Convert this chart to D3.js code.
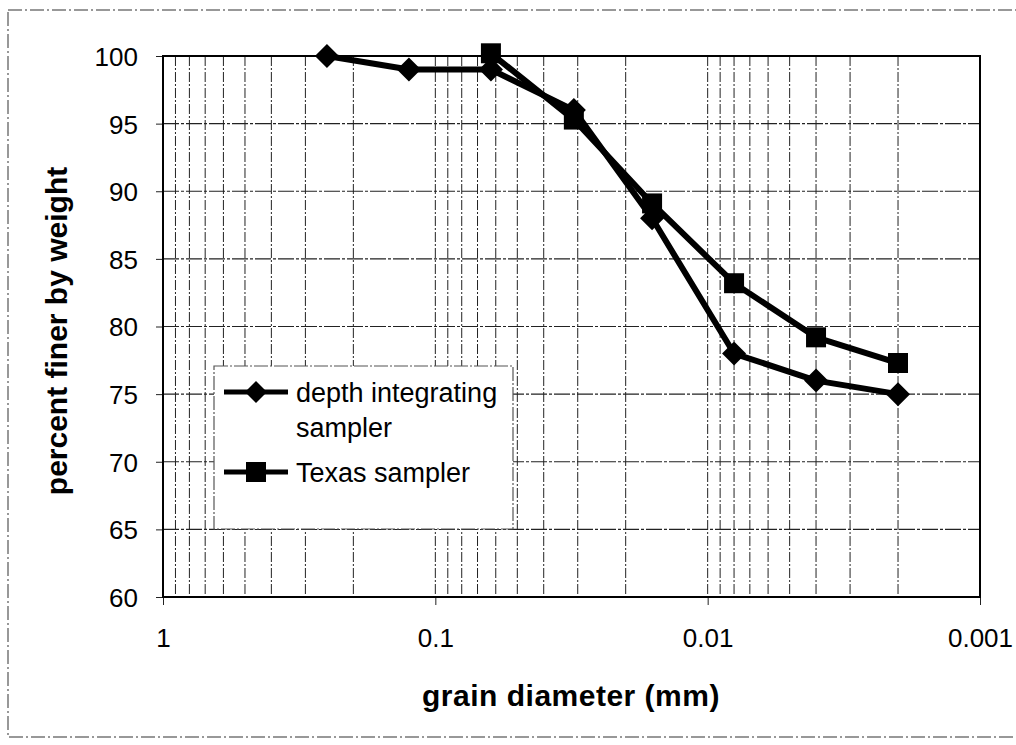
<!DOCTYPE html>
<html>
<head>
<meta charset="utf-8">
<script src="https://cdn.jsdelivr.net/npm/d3@7"></script>
<style>
  body { margin: 0; background: #fff; }
  svg { font-family: "Liberation Sans", Arial, sans-serif; }
</style>
</head>
<body>
<svg id="chart"></svg>
<script>
// grain sizes (mm) and percent finer
const depthDiameters = [0.25, 0.125, 0.0625, 0.031, 0.016, 0.008, 0.004, 0.002];
const depthValues = [100, 99, 99, 96, 88, 78, 76, 75];
const texasDiameters = [0.0625, 0.031, 0.016, 0.008, 0.004, 0.002];
const texasValues = [100.2, 95.3, 89.1, 83.2, 79.2, 77.3];
const xTicks = [1, 0.1, 0.01, 0.001];
const yTicks = [60, 65, 70, 75, 80, 85, 90, 95, 100];
const seriesNames = ['depth integrating|sampler', 'Texas sampler'];

const width = 1016, height = 745;
const margin = {top: 56, right: 36, bottom: 148, left: 163};
const innerW = width - margin.left - margin.right;
const innerH = height - margin.top - margin.bottom;

const svg = d3.select('#chart')
    .attr('width', width)
    .attr('height', height);

// outer frame (right edge runs off the page)
svg.append('rect')
    .attr('x', 8).attr('y', 10)
    .attr('width', 1030).attr('height', 727)
    .attr('fill', 'none')
    .attr('stroke', '#777')
    .attr('stroke-width', 1.5)
    .attr('stroke-dasharray', '14,3,2,3');

const chart = svg.append('g')
    .attr('transform', `translate(${margin.left}, ${margin.top})`);

const xscale = d3.scaleLog().domain([1, 0.001]).range([0, innerW]);
const yscale = d3.scaleLinear().domain([60, 100]).range([innerH, 0]);

// minor vertical grid (2..9 of each decade, plus decades)
const minor = [];
for (let e = 0; e > -3; e--) {
    for (let m = 1; m < 10; m++) {
        const v = m * Math.pow(10, e - 1);
        if (v < 1 && v > 0.001) minor.push(v);
    }
}
chart.append('g').selectAll('line')
    .data(minor)
    .join('line')
    .attr('x1', d => xscale(d)).attr('x2', d => xscale(d))
    .attr('y1', 0).attr('y2', innerH)
    .attr('stroke', '#222')
    .attr('stroke-width', 1)
    .attr('stroke-dasharray', '10,2,2,2');

chart.append('g').selectAll('line')
    .data(yTicks.slice(1, -1))
    .join('line')
    .attr('x1', 0).attr('x2', innerW)
    .attr('y1', d => yscale(d)).attr('y2', d => yscale(d))
    .attr('stroke', '#222')
    .attr('stroke-width', 1.2)
    .attr('stroke-dasharray', '16,2,3,2');

// axes
const xaxis = d3.axisBottom(xscale)
    .tickValues(xTicks)
    .tickFormat(d => String(d))
    .tickSize(8)
    .tickPadding(24)
    .tickSizeOuter(0);
const yaxis = d3.axisLeft(yscale)
    .tickValues(yTicks)
    .tickSize(7)
    .tickPadding(18)
    .tickSizeOuter(0);

const xg = chart.append('g')
    .attr('transform', `translate(0, ${innerH})`)
    .call(xaxis);
const yg = chart.append('g').call(yaxis);

[xg, yg].forEach(g => {
    g.select('.domain').remove();
    g.selectAll('text')
        .style('font-size', '26px')
        .attr('fill', '#000');
    g.selectAll('line').attr('stroke', '#222');
});
yg.selectAll('text').attr('dy', '0.36em');

// plot frame
chart.append('rect')
    .attr('width', innerW).attr('height', innerH)
    .attr('fill', 'none')
    .attr('stroke', '#000')
    .attr('stroke-width', 2);

// axis labels
svg.append('text')
    .attr('x', 571)
    .attr('y', 706)
    .attr('text-anchor', 'middle')
    .style('font-size', '30px')
    .style('font-weight', 'bold')
    .style('letter-spacing', '0.5px')
    .text('grain diameter (mm)');

svg.append('text')
    .attr('transform', 'rotate(-90)')
    .attr('x', -331)
    .attr('y', 67)
    .attr('text-anchor', 'middle')
    .style('font-size', '30px')
    .style('font-weight', 'bold')
    .text('percent finer by weight');

// series
const diamond = r => `M0,${-r}L${r},0L0,${r}L${-r},0Z`;
const square = s => `M${-s},${-s}H${s}V${s}H${-s}Z`;

const line = d3.line()
    .x(d => xscale(d[0]))
    .y(d => yscale(d[1]));

const depthData = depthDiameters.map((d, i) => [d, depthValues[i]]);
const texasData = texasDiameters.map((d, i) => [d, texasValues[i]]);

chart.append('path')
    .attr('d', line(depthData))
    .attr('fill', 'none')
    .attr('stroke', '#000')
    .attr('stroke-width', 6)
    .attr('stroke-linejoin', 'round');
chart.append('path')
    .attr('d', line(texasData))
    .attr('fill', 'none')
    .attr('stroke', '#000')
    .attr('stroke-width', 6)
    .attr('stroke-linejoin', 'round');

chart.append('g').selectAll('path')
    .data(depthData)
    .join('path')
    .attr('transform', d => `translate(${xscale(d[0])}, ${yscale(d[1])})`)
    .attr('d', diamond(12))
    .attr('fill', '#000');
chart.append('g').selectAll('path')
    .data(texasData)
    .join('path')
    .attr('transform', d => `translate(${xscale(d[0])}, ${yscale(d[1])})`)
    .attr('d', square(10))
    .attr('fill', '#000');

// legend
const legend = svg.append('g');
legend.append('rect')
    .attr('x', 214).attr('y', 366)
    .attr('width', 299).attr('height', 163)
    .attr('fill', '#fff')
    .attr('stroke', '#555')
    .attr('stroke-width', 1.2)
    .attr('stroke-dasharray', '14,2,2,2');

const rows = [{y: 392, marker: diamond(11)}, {y: 472, marker: square(10)}];
rows.forEach((r, i) => {
    legend.append('line')
        .attr('x1', 224).attr('x2', 288)
        .attr('y1', r.y).attr('y2', r.y)
        .attr('stroke', '#000')
        .attr('stroke-width', 5);
    legend.append('path')
        .attr('transform', `translate(256, ${r.y})`)
        .attr('d', r.marker)
        .attr('fill', '#000');
    const t = legend.append('text')
        .attr('x', 296)
        .attr('y', r.y + 10)
        .style('font-size', '27px');
    seriesNames[i].split('|').forEach((s, j) => {
        t.append('tspan')
            .attr('x', 296)
            .attr('dy', j === 0 ? 0 : 35)
            .text(s);
    });
});
</script>
</body>
</html>
